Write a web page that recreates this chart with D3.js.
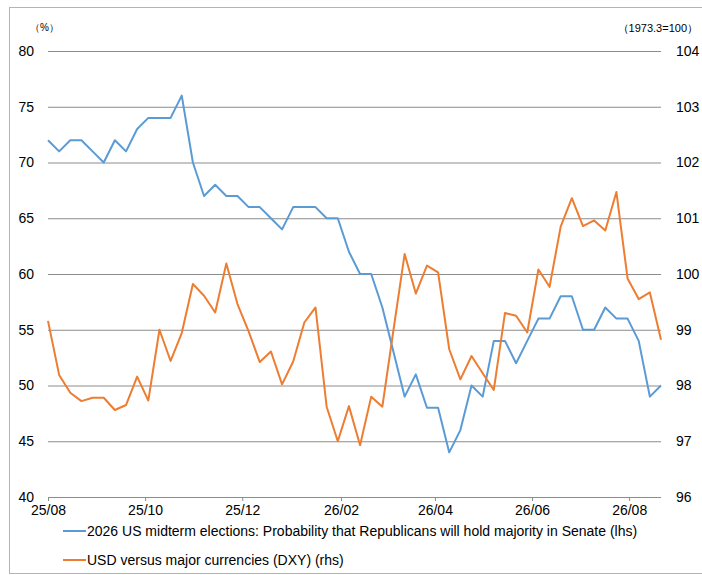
<!DOCTYPE html>
<html>
<head>
<meta charset="utf-8">
<script src="https://cdn.jsdelivr.net/npm/d3@7"></script>
<style>
  body { margin: 0; background: #fff; }
  text { font-family: "Liberation Sans", Arial, sans-serif; fill: #000; }
</style>
</head>
<body>
<script>
// weekly observations
var fechas = ["2025-08-01","2025-08-08","2025-08-15","2025-08-22","2025-08-29",
  "2025-09-05","2025-09-12","2025-09-19","2025-09-26",
  "2025-10-03","2025-10-10","2025-10-17","2025-10-24","2025-10-31",
  "2025-11-07","2025-11-14","2025-11-21","2025-11-28",
  "2025-12-05","2025-12-12","2025-12-19","2025-12-26",
  "2026-01-02","2026-01-09","2026-01-16","2026-01-23","2026-01-30",
  "2026-02-06","2026-02-13","2026-02-20","2026-02-27",
  "2026-03-06","2026-03-13","2026-03-20","2026-03-27",
  "2026-04-03","2026-04-10","2026-04-17","2026-04-24",
  "2026-05-01","2026-05-08","2026-05-15","2026-05-22","2026-05-29",
  "2026-06-05","2026-06-12","2026-06-19","2026-06-26",
  "2026-07-03","2026-07-10","2026-07-17","2026-07-24","2026-07-31",
  "2026-08-07","2026-08-14","2026-08-21"];

// Senate majority probability (lhs, %)
var senado = [72, 71, 72, 72, 71, 70, 72, 71, 73, 74,
              74, 74, 76, 70, 67, 68, 67, 67, 66, 66,
              65, 64, 66, 66, 66, 65, 65, 62, 60, 60,
              57, 53, 49, 51, 48, 48, 44, 46, 50, 49,
              54, 54, 52, 54, 56, 56, 58, 58, 55, 55,
              57, 56, 56, 54, 49, 50];

// DXY (rhs, 1973.3=100)
var dxy = [99.16, 98.19, 97.87, 97.72, 97.78, 97.78, 97.56, 97.65, 98.16, 97.73,
           99.00, 98.44, 98.94, 99.82, 99.61, 99.31, 100.19, 99.46, 98.97, 98.42,
           98.61, 98.02, 98.43, 99.13, 99.40, 97.62, 97.00, 97.63, 96.93, 97.80,
           97.62, 99.00, 100.36, 99.65, 100.15, 100.03, 98.65, 98.11, 98.53, 98.22,
           97.92, 99.30, 99.25, 98.95, 100.08, 99.77, 100.85, 101.36, 100.86, 100.96,
           100.78, 101.47, 99.92, 99.55, 99.67, 98.82];

var ticksIzq = [40, 45, 50, 55, 60, 65, 70, 75, 80];
var ticksDer = [96, 97, 98, 99, 100, 101, 102, 103, 104];
var ticksX = ["2025-08-01","2025-10-01","2025-12-01","2026-02-01","2026-04-01","2026-06-01","2026-08-01"];

var leyenda = ["2026 US midterm elections: Probability that Republicans will hold majority in Senate (lhs)",
               "USD versus major currencies (DXY) (rhs)"];

var vis = {
  width: 702,
  height: 575,
  izq: 48,
  der: 661,
  arriba: 51,
  abajo: 497,
  azul: "#5B9BD5",
  naranja: "#ED7D31",
  rejilla: "#8c8c8c",
  letra: 14
};

var parse = d3.timeParse("%Y-%m-%d");
var formato = d3.timeFormat("%y/%m");
var dias = fechas.map(parse);

var svg = d3.select("body").append("svg")
  .attr("width", vis.width)
  .attr("height", vis.height);

// marco
svg.append("rect")
  .attr("x", 9.5).attr("y", 7.5)
  .attr("width", 693).attr("height", 566)
  .attr("fill", "none")
  .attr("stroke", "#b4b4b4")
  .attr("stroke-width", 1);

var x = d3.scaleTime()
  .domain([dias[0], dias[dias.length - 1]])
  .range([vis.izq, vis.der]);

var yIzq = d3.scaleLinear().domain([40, 80]).range([vis.abajo, vis.arriba]);
var yDer = d3.scaleLinear().domain([96, 104]).range([vis.abajo, vis.arriba]);

// rejilla
svg.append("g")
  .attr("transform", "translate(" + vis.izq + ",0)")
  .call(d3.axisRight(yIzq).tickValues(ticksIzq).tickSize(vis.der - vis.izq).tickFormat(""))
  .call(function(g) {
    g.select(".domain").remove();
    g.selectAll("line").attr("stroke", vis.rejilla).attr("stroke-width", 1);
  });

// eje izquierdo
svg.append("g")
  .attr("transform", "translate(" + (vis.izq - 11) + ",0)")
  .call(d3.axisLeft(yIzq).tickValues(ticksIzq).tickSize(0))
  .call(function(g) {
    g.select(".domain").remove();
    g.selectAll("text").attr("font-size", vis.letra).attr("font-family", "Liberation Sans, Arial, sans-serif").attr("fill", "#000");
  });

// eje derecho
svg.append("g")
  .attr("transform", "translate(" + (vis.der + 12) + ",0)")
  .call(d3.axisRight(yDer).tickValues(ticksDer).tickSize(0))
  .call(function(g) {
    g.select(".domain").remove();
    g.selectAll("text").attr("font-size", vis.letra).attr("font-family", "Liberation Sans, Arial, sans-serif").attr("fill", "#000");
  });

// eje x
svg.append("g")
  .attr("transform", "translate(0," + vis.abajo + ")")
  .call(d3.axisBottom(x).tickValues(ticksX.map(parse)).tickSize(4).tickPadding(4).tickFormat(formato))
  .call(function(g) {
    g.select(".domain").remove();
    g.selectAll("line").attr("stroke", vis.rejilla);
    g.selectAll("text").attr("font-size", vis.letra).attr("font-family", "Liberation Sans, Arial, sans-serif").attr("fill", "#000");
  });

// unidades
svg.append("text")
  .attr("x", 30).attr("y", 31)
  .attr("font-size", 10)
  .attr("font-family", "Liberation Sans, Noto Sans CJK JP, sans-serif")
  .attr("fill", "#444")
  .text("（%）");

svg.append("text")
  .attr("x", 698).attr("y", 32)
  .attr("text-anchor", "end")
  .attr("font-size", 11)
  .attr("font-family", "Liberation Sans, Noto Sans CJK JP, sans-serif")
  .attr("fill", "#222")
  .text("（1973.3=100）");

// lineas
var lineaIzq = d3.line()
  .x(function(d, i) { return x(dias[i]); })
  .y(function(d) { return yIzq(d); });

var lineaDer = d3.line()
  .x(function(d, i) { return x(dias[i]); })
  .y(function(d) { return yDer(d); });

svg.append("path")
  .datum(senado)
  .attr("d", lineaIzq)
  .attr("fill", "none")
  .attr("stroke", vis.azul)
  .attr("stroke-width", 2)
  .attr("stroke-linejoin", "round");

svg.append("path")
  .datum(dxy)
  .attr("d", lineaDer)
  .attr("fill", "none")
  .attr("stroke", vis.naranja)
  .attr("stroke-width", 2)
  .attr("stroke-linejoin", "round");

// leyenda
var colores = [vis.azul, vis.naranja];
var items = svg.selectAll("g.leyenda")
  .data(leyenda)
  .enter()
  .append("g")
  .attr("class", "leyenda")
  .attr("transform", function(d, i) { return "translate(63," + (531 + i * 29) + ")"; });

items.append("line")
  .attr("x1", 0).attr("x2", 23)
  .attr("y1", 0).attr("y2", 0)
  .attr("stroke", function(d, i) { return colores[i]; })
  .attr("stroke-width", 2);

items.append("text")
  .attr("x", 24)
  .attr("y", 5)
  .attr("font-size", vis.letra)
  .text(function(d) { return d; });
</script>
</body>
</html>
